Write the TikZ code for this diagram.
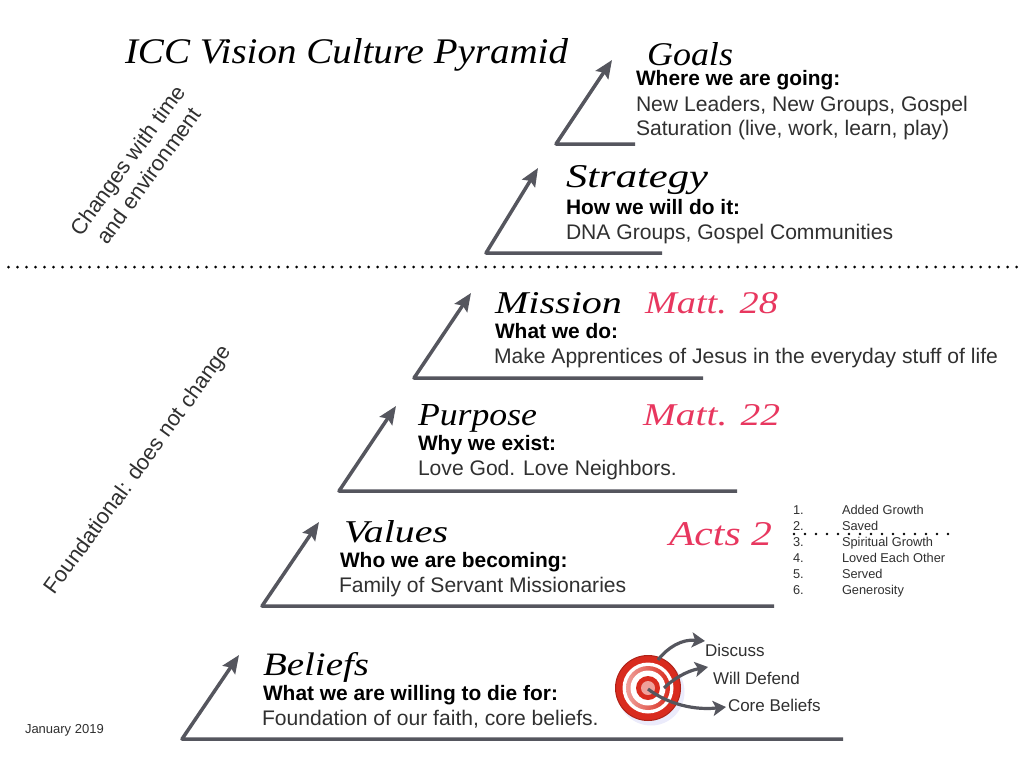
\documentclass[tikz,border=0pt]{standalone}
\usepackage{fontspec}
\setmainfont{Liberation Sans}
\newfontfamily\handfont{Liberation Serif}
\usetikzlibrary{arrows.meta}
\definecolor{steel}{HTML}{55565E}
\definecolor{verse}{HTML}{E8375F}
\definecolor{ink}{HTML}{303030}
\definecolor{tred}{HTML}{D92B1E}
\definecolor{tpink}{HTML}{EFA09A}
\newcommand{\fit}[3]{\resizebox{#1pt}{#2pt}{\handfont\itshape #3}}
\tikzset{
  lbl/.style={anchor=base west,inner sep=0pt,outer sep=0pt,text=ink},
  body/.style={lbl,font=\fontsize{21.1}{24}\selectfont},
  head/.style={lbl,font=\fontsize{20.9}{24}\selectfont\bfseries,text=black},
  hand/.style={lbl,text=black},
  verseref/.style={lbl,text=verse},
  small/.style={lbl,font=\fontsize{12.8}{15}\selectfont},
  tag/.style={lbl,font=\fontsize{17}{19}\selectfont},
  side/.style={inner sep=0pt,outer sep=0pt,text=ink,font=\fontsize{21.8}{26}\selectfont,rotate=54,align=center},
  step arrow/.style={draw=steel,line width=3.5pt,line join=round,-{Stealth[length=18pt,width=15pt,inset=3pt]}},
  curve arrow/.style={draw=steel,line width=3.2pt,-{Stealth[length=13pt,width=15pt,inset=3pt]}},
  dots/.style={draw=black,line width=3pt,line cap=round,dash pattern=on 0pt off 9pt},
}
\begin{document}
\begin{tikzpicture}[x=1pt,y=-1pt]
\path[use as bounding box,fill=white] (0,0) rectangle (1024,768);

% dotted rules
\coordinate (d1a) at (8.5,267); \coordinate (d1b) at (1020,267);
\draw[dots] (d1a) -- (d1b);

% title
\node[hand] (title) at (125,64) {\fit{443}{25}{ICC Vision Culture Pyramid}};

% stepped arrows
\foreach \n/\cx/\cy/\rx/\tx/\ty in {goals/556/144/635/612/60, strategy/486/253/662/538/168, mission/414/378/703/471/293, purpose/339/491/737/396/406, values/262/606/774/319/522, beliefs/182/739/843/239/655}{
  \coordinate (\n R) at (\rx,\cy);
  \coordinate (\n C) at (\cx,\cy);
  \coordinate (\n T) at (\tx,\ty);
  \draw[step arrow] (\n R) -- (\n C) -- (\n T);
}

% Goals
\node[hand] (goalsH) at (647,65) {\fit{86}{23}{Goals}};
\node[head] (goalsA) at (636,85) {Where we are going:};
\node[body] (goalsB) at (636,111) {New Leaders, New Groups, Gospel};
\node[body] (goalsD) at (636,135) {Saturation (live, work, learn, play)};
% Strategy
\node[hand] (strategyH) at (566,187) {\fit{142}{22}{Strategy}};
\node[head] (strategyA) at (566,214) {How we will do it:};
\node[body] (strategyB) at (566,239) {DNA Groups, Gospel Communities};
% Mission
\node[hand] (missionH) at (495,313) {\fit{127}{21}{Mission}};
\node[verseref] (missionV) at (645,313) {\fit{133}{21}{Matt. 28}};
\node[head] (missionA) at (495,338) {What we do:};
\node[body] (missionB) at (494,363) {Make Apprentices of Jesus in the everyday stuff of life};
% Purpose
\node[hand] (purposeH) at (418,425) {\fit{119}{21}{Purpose}};
\node[verseref] (purposeV) at (643,425) {\fit{137}{21}{Matt. 22}};
\node[head] (purposeA) at (418,450) {Why we exist:};
\node[body] (purposeB) at (418,475) {Love God. Love Neighbors.};
% Values
\node[hand] (valuesH) at (344,542) {\fit{104}{22}{Values}};
\node[verseref] (valuesV) at (669,545) {\fit{103}{23}{Acts 2}};
\node[head] (valuesA) at (340,567) {Who we are becoming:};
\node[body] (valuesB) at (339,592) {Family of Servant Missionaries};
% Beliefs
\node[hand] (beliefsH) at (263,675) {\fit{106}{23}{Beliefs}};
\node[head] (beliefsA) at (263,700) {What we are willing to die for:};
\node[body] (beliefsB) at (262,725) {Foundation of our faith, core beliefs.};

% list
\foreach \k/\y/\t in {1/514/Added Growth,2/530/Saved,3/546/Spiritual Growth,4/562/Loved Each Other,5/578/Served,6/594/Generosity}{
  \node[small] (num\k) at (793,\y) {\k.};
  \node[small] (item\k) at (842,\y) {\t};
}
\coordinate (d2a) at (794,534); \coordinate (d2b) at (950,534);
\draw[dots,line width=2.8pt,dash pattern=on 0pt off 11pt] (d2a) -- (d2b);

% target
\fill[fill=black!22!blue!8!white] (651,692) circle (33.5);
\node[circle,fill=tred,draw=tred!80!black,line width=1pt,minimum size=65pt,inner sep=0pt] (target) at (648,688) {};
\fill[white] (target.center) circle (25.5);
\shade[left color=tpink,right color=tred] (target.center) circle (22);
\fill[white] (target.center) circle (17.5);
\fill[tred] (target.center) circle (12);
\fill[tpink] (target.center) circle (7);

% tags
\node[tag] (discuss) at (705,656) {Discuss};
\node[tag] (defend) at (713,684) {Will Defend};
\node[tag] (core) at (728,711) {Core Beliefs};

% curved arrows
\coordinate (s1) at (658,660); \coordinate (e1) at (705,641);
\coordinate (s2) at (664,688); \coordinate (e2) at (708,667);
\coordinate (s3) at (648,689); \coordinate (e3) at (726,707);
\draw[curve arrow] (s1) .. controls (668,647) and (682,639) .. (e1);
\draw[curve arrow] (s2) .. controls (672,680) and (686,671) .. (e2);
\draw[curve arrow] (s3) .. controls (662,700) and (688,711) .. (e3);

% side notes
\node[side] (changes) at (138,168) {Changes with time\\and environment};
\node[side] (found) at (139,470) {Foundational: does not change};

% date
\node[lbl,font=\fontsize{13}{15}\selectfont] (date) at (25,733) {January 2019};
\end{tikzpicture}
\end{document}
